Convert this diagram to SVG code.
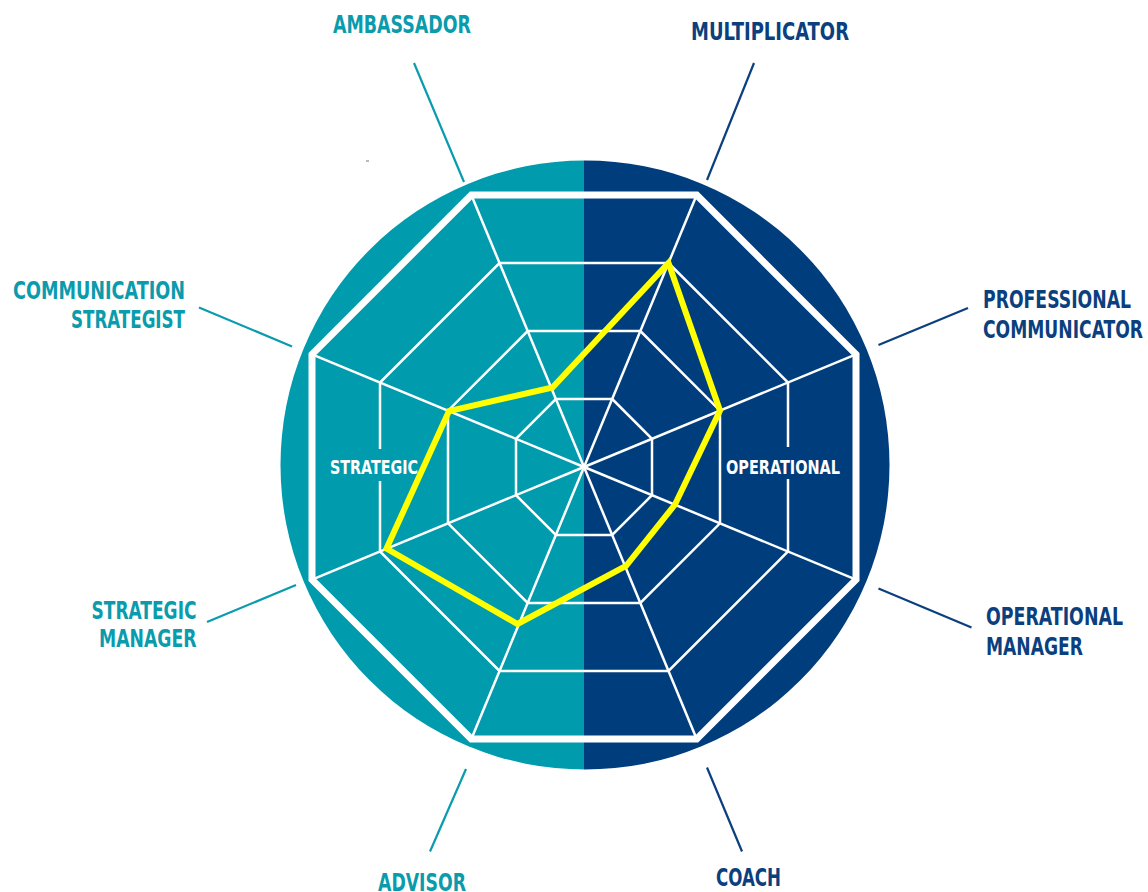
<svg xmlns="http://www.w3.org/2000/svg" width="1148" height="892" viewBox="0 0 1148 892">
<style>
.lbl{font-family:"Liberation Sans Narrow","DejaVu Sans Condensed","Liberation Sans",sans-serif;font-weight:bold;font-size:25px}
.teal{fill:#0A9BAC}
.navy{fill:#0B3F7E}
.inner{font-family:"Liberation Sans Narrow","DejaVu Sans Condensed","Liberation Sans",sans-serif;font-weight:bold;font-size:20px;fill:#FFFFFF}
.ring{fill:none;stroke:#FFFFFF;stroke-width:2.5}
.spoke{stroke:#FFFFFF;stroke-width:2.5}
.lt{stroke:#0A9BAC;stroke-width:2.2}
.ln{stroke:#0B3F7E;stroke-width:2.2}
</style>
<defs>
<clipPath id="cl"><circle cx="585" cy="465" r="304.5"/></clipPath>
</defs>
<rect width="1148" height="892" fill="#FFFFFF"/>
<g id="chart">
<g clip-path="url(#cl)">
<rect x="270" y="150" width="314" height="630" fill="#009BAC"/>
<rect x="584" y="150" width="320" height="630" fill="#003D7C"/>
</g>
<g id="spokes">
<line class="spoke" x1="584" y1="467" x2="696.67" y2="195"/>
<line class="spoke" x1="584" y1="467" x2="856" y2="354.33"/>
<line class="spoke" x1="584" y1="467" x2="856" y2="579.67"/>
<line class="spoke" x1="584" y1="467" x2="696.67" y2="739"/>
<line class="spoke" x1="584" y1="467" x2="471.33" y2="739"/>
<line class="spoke" x1="584" y1="467" x2="312" y2="579.67"/>
<line class="spoke" x1="584" y1="467" x2="312" y2="354.33"/>
<line class="spoke" x1="584" y1="467" x2="471.33" y2="195"/>
</g>
<g id="rings">
<polygon class="ring" points="612.17,399 652,438.83 652,495.17 612.17,535 555.83,535 516,495.17 516,438.83 555.83,399"/>
<polygon class="ring" points="640.33,331 720,410.67 720,523.33 640.33,603 527.67,603 448,523.33 448,410.67 527.67,331"/>
<polygon class="ring" points="668.5,263 788,382.5 788,551.5 668.5,671 499.5,671 380,551.5 380,382.5 499.5,263"/>
<polygon points="696.67,195 856,354.33 856,579.67 696.67,739 471.33,739 312,579.67 312,354.33 471.33,195" fill="none" stroke="#FFFFFF" stroke-width="7"/>
</g>
<g id="profile">
<polygon points="668.5,263 720,410.67 675,504.5 626,566 517.5,624 386.5,548.5 449,411 552.5,387.5" fill="none" stroke="#FFFF00" stroke-width="6" stroke-linejoin="miter"/>
</g>
<g id="side-strategic">
<rect x="374" y="449" width="12" height="32" fill="#009BAC"/>
<text class="inner" x="330" y="474" textLength="88" lengthAdjust="spacingAndGlyphs">STRATEGIC</text>
</g>
<g id="side-operational">
<rect x="782" y="447" width="12" height="32" fill="#003D7C"/>
<text class="inner" x="726" y="473.5" textLength="114" lengthAdjust="spacingAndGlyphs">OPERATIONAL</text>
</g>
</g>
<g id="connectors">
<line class="lt" x1="414" y1="63" x2="464" y2="182"/>
<line class="ln" x1="754" y1="63" x2="707" y2="180"/>
<line class="ln" x1="968" y1="308" x2="878.5" y2="345"/>
<line class="ln" x1="878.5" y1="588.5" x2="971.5" y2="627.5"/>
<line class="ln" x1="707" y1="767.5" x2="742" y2="851.5"/>
<line class="lt" x1="466" y1="769" x2="430" y2="851.5"/>
<line class="lt" x1="296" y1="585" x2="207" y2="622"/>
<line class="lt" x1="199" y1="307.5" x2="292" y2="346.5"/>
</g>
<line x1="366" y1="161" x2="369" y2="161" stroke="#8A8A8A" stroke-width="1.2"/>
<g id="ambassador"><text class="lbl teal" x="333" y="33" textLength="138" lengthAdjust="spacingAndGlyphs">AMBASSADOR</text></g>
<g id="multiplicator"><text class="lbl navy" x="691" y="40" textLength="158" lengthAdjust="spacingAndGlyphs">MULTIPLICATOR</text></g>
<g id="professional-communicator">
<text class="lbl navy" x="983" y="307.5" textLength="148" lengthAdjust="spacingAndGlyphs">PROFESSIONAL</text>
<text class="lbl navy" x="983" y="338" textLength="160" lengthAdjust="spacingAndGlyphs">COMMUNICATOR</text>
</g>
<g id="operational-manager">
<text class="lbl navy" x="986" y="625" textLength="137" lengthAdjust="spacingAndGlyphs">OPERATIONAL</text>
<text class="lbl navy" x="986" y="655" textLength="97" lengthAdjust="spacingAndGlyphs">MANAGER</text>
</g>
<g id="coach"><text class="lbl navy" x="716" y="886" textLength="65" lengthAdjust="spacingAndGlyphs">COACH</text></g>
<g id="advisor"><text class="lbl teal" x="378" y="891" textLength="88" lengthAdjust="spacingAndGlyphs">ADVISOR</text></g>
<g id="strategic-manager">
<text class="lbl teal" x="91.5" y="618.5" textLength="105" lengthAdjust="spacingAndGlyphs">STRATEGIC</text>
<text class="lbl teal" x="99" y="646.5" textLength="97.5" lengthAdjust="spacingAndGlyphs">MANAGER</text>
</g>
<g id="communication-strategist">
<text class="lbl teal" x="13" y="298.5" textLength="172" lengthAdjust="spacingAndGlyphs">COMMUNICATION</text>
<text class="lbl teal" x="71" y="327.5" textLength="114" lengthAdjust="spacingAndGlyphs">STRATEGIST</text>
</g>
</svg>
